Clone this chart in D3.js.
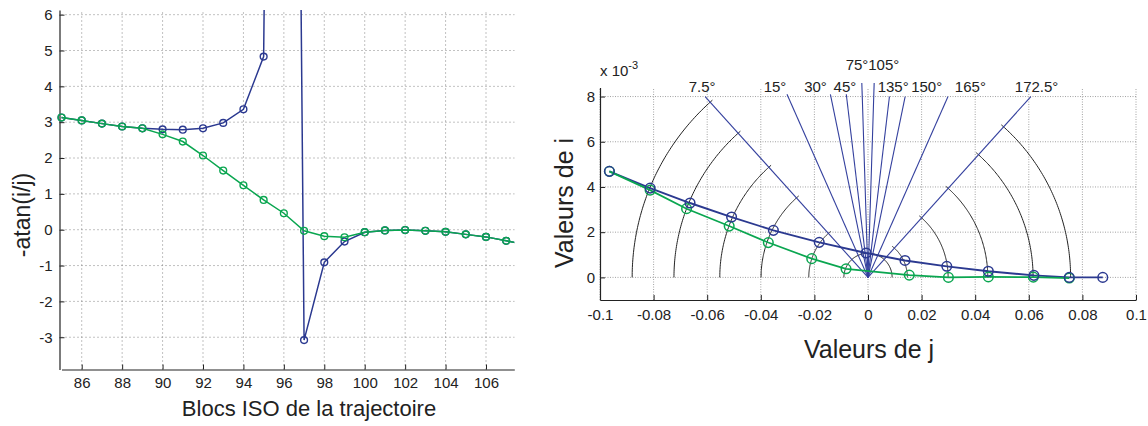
<!DOCTYPE html>
<html><head><meta charset="utf-8">
<script src="https://cdn.jsdelivr.net/npm/d3@7"></script>
<style>
body{margin:0;background:#fff}
svg{display:block}
text{font-family:"Liberation Sans",Arial,sans-serif;fill:#222}
</style>
</head><body>
<svg id="c" width="1148" height="426"></svg>
<script>
// ---------- Left chart data ----------
const blocks     = [85,86,87,88,89,90,91,92,93,94,95,96,97,98,99,100,101,102,103,104,105,106,107,108];
const leftBlue   = [3.13,3.05,2.96,2.88,2.83,2.80,2.79,2.83,2.98,3.36,4.83,60,-3.08,-0.91,-0.33,-0.07,-0.02,-0.01,-0.03,-0.06,-0.13,-0.20,-0.31,-0.42];
const leftGreen  = [3.13,3.05,2.96,2.88,2.83,2.66,2.46,2.07,1.65,1.24,0.83,0.46,-0.03,-0.18,-0.21,-0.07,-0.02,-0.01,-0.03,-0.06,-0.13,-0.20,-0.31,-0.42];
const leftXTicks = [86,88,90,92,94,96,98,100,102,104,106];
const leftYTicks = [-3,-2,-1,0,1,2,3,4,5,6];

// ---------- Right chart data (i in units of 1e-3) ----------
const jBlue  = [-0.0965,-0.0813,-0.0664,-0.0509,-0.0353,-0.0182,-0.0007,0.0138,0.0294,0.0449,0.0619,0.0751,0.0876];
const iBlue  = [4.69,3.95,3.29,2.67,2.08,1.55,1.08,0.75,0.49,0.27,0.09,0.0,0.0];
const jGreen = [-0.0965,-0.0813,-0.0677,-0.0518,-0.0372,-0.0210,-0.0082,0.0154,0.0300,0.0449,0.0617,0.0751];
const iGreen = [4.69,3.86,3.04,2.27,1.54,0.83,0.38,0.10,0.0,0.02,0.01,-0.03];
const angles      = [7.5,15,30,45,75,105,135,150,165,172.5];
const angleNames  = ["7.5°","15°","30°","45°","75°","105°","135°","150°","165°","172.5°"];
const angleLineI  = [8.0,8.1,8.1,8.1,8.6,8.6,8.0,8.0,8.0,8.0];
const angleLabelJ = [-0.0619,-0.0347,-0.0196,-0.0086,-0.0041,0.0059,0.0094,0.0219,0.0382,0.0629];
const angleLabelI = [8.2,8.2,8.2,8.2,9.18,9.18,8.2,8.2,8.2,8.2];
const arcLeftJ  = [-0.0880,-0.0724,-0.0553,-0.0399,-0.0221];
const arcRightJ = [0.0756,0.0616,0.0447,0.0299,0.0147];
const arcHalfJ  = [0.0090];
const rightXTicks = [-0.1,-0.08,-0.06,-0.04,-0.02,0,0.02,0.04,0.06,0.08,0.1];
const rightYTicks = [0,2,4,6,8];

const BLUE = "#2b3990", GREEN = "#0aa650", FANBLUE = "#34409e";
const svg = d3.select("#c");
const defs = svg.append("defs");
const plainFmt = d => String(+(+d).toFixed(3));

// ================= LEFT CHART =================
const xL = d3.scaleLinear([85,107.4],[61.5,514.3]);
const yL = d3.scaleLinear([-3.9,6.13],[369.5,10]);
defs.append("clipPath").attr("id","clipL").append("rect")
  .attr("x",xL.range()[0]-8).attr("y",yL.range()[1])
  .attr("width",xL.range()[1]-xL.range()[0]+8).attr("height",yL.range()[0]-yL.range()[1]);

const gL = svg.append("g");
gL.append("g").selectAll("line").data(leftXTicks).join("line")
  .attr("x1",d=>xL(d)).attr("x2",d=>xL(d)).attr("y1",yL.range()[0]).attr("y2",yL.range()[1])
  .attr("stroke","#777").attr("stroke-width",0.9).attr("stroke-dasharray","1,3");
gL.append("g").selectAll("line").data(leftYTicks).join("line")
  .attr("x1",xL.range()[0]).attr("x2",xL.range()[1]).attr("y1",d=>yL(d)).attr("y2",d=>yL(d))
  .attr("stroke","#777").attr("stroke-width",0.9).attr("stroke-dasharray","1,3");

const axLB = gL.append("g").attr("transform",`translate(0,${yL.range()[0]})`)
  .call(d3.axisBottom(xL).tickValues(leftXTicks).tickFormat(plainFmt).tickSizeInner(-5).tickSizeOuter(0).tickPadding(8));
const axLL = gL.append("g").attr("transform",`translate(${xL.range()[0]-2},0)`)
  .call(d3.axisLeft(yL).tickValues(leftYTicks).tickFormat(plainFmt).tickSizeInner(-5).tickSizeOuter(0).tickPadding(7));
[axLB,axLL].forEach(a=>{
  a.selectAll("text").style("font-size","15px").attr("fill","#222");
  a.selectAll("path,line").attr("stroke","#222");
  a.select(".domain").attr("stroke-width",1.2);
});

const lineL = d3.line().x((d,k)=>xL(blocks[k])).y(d=>yL(d));
const plotL = gL.append("g").attr("clip-path","url(#clipL)");
[[leftBlue,BLUE],[leftGreen,GREEN]].forEach(([vals,col])=>{
  plotL.append("path").attr("d",lineL(vals)).attr("fill","none").attr("stroke",col).attr("stroke-width",1.5);
  plotL.append("g").selectAll("circle").data(vals.map((v,k)=>[blocks[k],v])).join("circle")
    .attr("cx",d=>xL(d[0])).attr("cy",d=>yL(d[1])).attr("r",3.4)
    .attr("fill","none").attr("stroke",col).attr("stroke-width",1.4);
});

svg.append("text").attr("x",309).attr("y",416).attr("text-anchor","middle")
  .style("font-size","22px").text("Blocs ISO de la trajectoire");
svg.append("text").attr("transform","translate(30,215) rotate(-90)").attr("text-anchor","middle")
  .style("font-size","23px").text("-atan(i/j)");

// ================= RIGHT CHART =================
const xR = d3.scaleLinear([-0.1,0.1],[600,1136]);
const yR = d3.scaleLinear([-1,8.4],[300,87.5]);
const gR = svg.append("g");

gR.append("g").selectAll("line").data(rightXTicks).join("line")
  .attr("x1",d=>xR(d)).attr("x2",d=>xR(d)).attr("y1",yR.range()[0]).attr("y2",yR.range()[1])
  .attr("stroke","#999").attr("stroke-width",0.9).attr("stroke-dasharray","1,1.5");
gR.append("g").selectAll("line").data(rightYTicks).join("line")
  .attr("x1",xR.range()[0]).attr("x2",xR.range()[1]).attr("y1",d=>yR(d)).attr("y2",d=>yR(d))
  .attr("stroke","#999").attr("stroke-width",0.9).attr("stroke-dasharray","1,1.5");

const axRB = gR.append("g").attr("transform",`translate(0,${yR.range()[0]})`)
  .call(d3.axisBottom(xR).tickValues(rightXTicks).tickFormat(plainFmt).tickSizeInner(-5).tickSizeOuter(0).tickPadding(9));
const axRL = gR.append("g").attr("transform",`translate(${xR.range()[0]},0)`)
  .call(d3.axisLeft(yR).tickValues(rightYTicks).tickFormat(plainFmt).tickSizeInner(-5).tickSizeOuter(0).tickPadding(5));
[axRB,axRL].forEach(a=>{
  a.selectAll("text").style("font-size","15px").attr("fill","#222");
  a.selectAll("path,line").attr("stroke","#222");
  a.select(".domain").attr("stroke-width",1.2);
});

const expo = svg.append("text").attr("x",xR.range()[0]).attr("y",76).style("font-size","15px");
expo.append("tspan").text("x 10");
expo.append("tspan").attr("dy",-7).style("font-size","11px").text("-3");

// polar construction
const cx = xR(0), cy = yR(0);
const fanEnd = angles.map((a,k)=>{
  const i = angleLineI[k];
  const j = -(i*1e-3)/Math.tan(a*Math.PI/180);
  return [xR(j), yR(i)];
});
const pixAngle = k => Math.atan2(cy - fanEnd[k][1], fanEnd[k][0] - cx);
const arcPath = (r,a0,a1) => {
  const n = 80, pts = d3.range(n+1).map(t=>{const a=a0+(a1-a0)*t/n; return [cx+r*Math.cos(a), cy-r*Math.sin(a)];});
  return d3.line()(pts);
};
const gArc = gR.append("g").attr("fill","none").attr("stroke","#222").attr("stroke-width",1);
const aL = pixAngle(0), aRt = pixAngle(angles.length-1);
arcLeftJ.forEach(j=>{ const r = cx - xR(j); gArc.append("path").attr("d",arcPath(r,Math.PI,aL-3/r)); });
arcRightJ.forEach(j=>{ const r = xR(j) - cx; gArc.append("path").attr("d",arcPath(r,0,aRt+3/r)); });
arcHalfJ.forEach(j=>{ const r = xR(j) - cx; gArc.append("path").attr("d",arcPath(r,0,Math.PI)); });

gR.append("g").selectAll("line").data(fanEnd).join("line")
  .attr("x1",cx).attr("y1",cy).attr("x2",d=>d[0]).attr("y2",d=>d[1])
  .attr("stroke",FANBLUE).attr("stroke-width",1.1);
gR.append("g").selectAll("text").data(angleNames).join("text")
  .attr("x",(d,k)=>xR(angleLabelJ[k])).attr("y",(d,k)=>yR(angleLabelI[k]))
  .attr("text-anchor","middle").style("font-size","15px").attr("fill",BLUE).text(d=>d);

const ptsB = jBlue.map((j,k)=>[j,iBlue[k]]);
const ptsG = jGreen.map((j,k)=>[j,iGreen[k]]);
const lineR = d3.line().x(d=>xR(d[0])).y(d=>yR(d[1]));
gR.append("path").attr("d",lineR(ptsB)).attr("fill","none").attr("stroke",BLUE).attr("stroke-width",1.9);
gR.append("path").attr("d",lineR(ptsG)).attr("fill","none").attr("stroke",GREEN).attr("stroke-width",1.7);
gR.append("g").selectAll("circle").data(ptsG).join("circle")
  .attr("cx",d=>xR(d[0])).attr("cy",d=>yR(d[1])).attr("r",4.8)
  .attr("fill","none").attr("stroke",GREEN).attr("stroke-width",1.5);
gR.append("g").selectAll("circle").data(ptsB).join("circle")
  .attr("cx",d=>xR(d[0])).attr("cy",d=>yR(d[1])).attr("r",4.8)
  .attr("fill","none").attr("stroke",BLUE).attr("stroke-width",1.5);

svg.append("text").attr("x",869).attr("y",358).attr("text-anchor","middle")
  .style("font-size","25px").text("Valeurs de j");
svg.append("text").attr("transform","translate(573,203) rotate(-90)").attr("text-anchor","middle")
  .style("font-size","25px").text("Valeurs de i");
</script>
</body></html>
